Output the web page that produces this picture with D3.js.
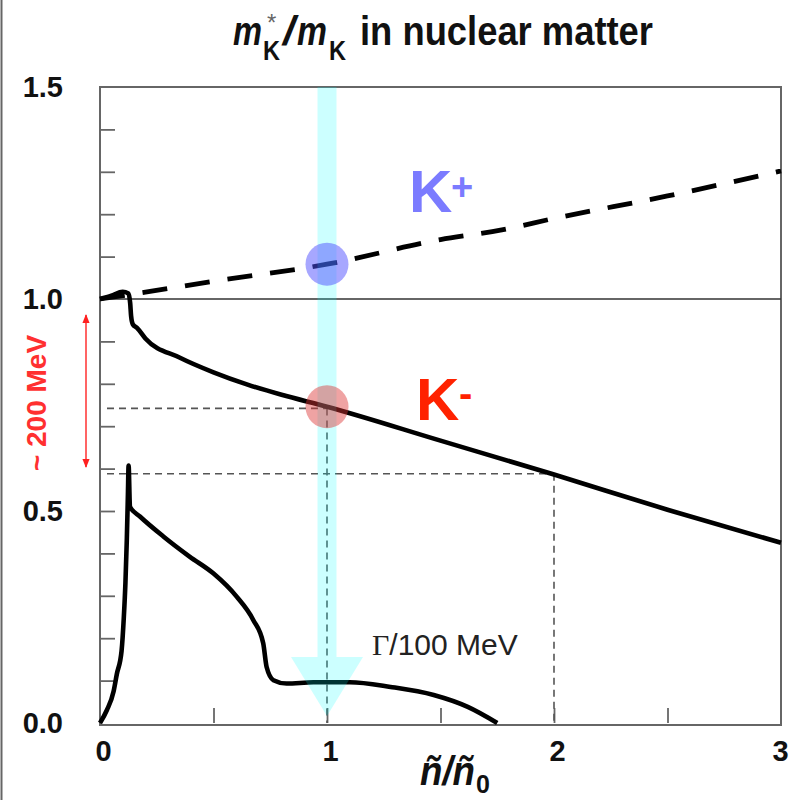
<!DOCTYPE html>
<html>
<head>
<meta charset="utf-8">
<script src="https://cdn.jsdelivr.net/npm/d3@7"></script>
<style>
  body { margin: 0; background: #fff; }
  svg { display: block; }
  text { font-family: "Liberation Sans", Arial, Helvetica, sans-serif; }
</style>
</head>
<body>
<svg id="chart" width="791" height="800"></svg>
<script>
// ---------- data ----------
const kPlusX  = [0, 0.2, 0.5, 1.0, 1.5, 1.77, 2.0, 2.5, 3.0];
const kPlusY  = [1.0, 1.016, 1.042, 1.082, 1.14, 1.163, 1.19, 1.243, 1.302];

const kMinusX = [0, 0.05, 0.1, 0.125, 0.133, 0.137, 0.145, 0.163, 0.2, 0.35, 0.5, 0.65, 0.8, 1.0, 1.5, 2.0, 2.5, 3.0];
const kMinusY = [1.0, 1.008, 1.017, 1.013, 0.99, 0.96, 0.94, 0.932, 0.907, 0.862, 0.827, 0.798, 0.774, 0.746, 0.666, 0.586, 0.503, 0.425];

const gammaX = [0, 0.03, 0.06, 0.074, 0.095, 0.105, 0.112, 0.118, 0.123, 0.126, 0.132, 0.176, 0.279, 0.396, 0.499, 0.602, 0.675, 0.719, 0.734, 0.764, 0.822, 0.94, 1.1, 1.28, 1.47, 1.62, 1.75];
const gammaY = [0, 0.03, 0.075, 0.115, 0.17, 0.25, 0.33, 0.43, 0.54, 0.607, 0.51, 0.487, 0.44, 0.392, 0.353, 0.298, 0.243, 0.188, 0.132, 0.101, 0.093, 0.096, 0.096, 0.085, 0.066, 0.038, 0.0];

const refX = [1, 2];          // vertical dashed guides
const refY = [0.742, 0.588];  // horizontal dashed guides

const xTickLabels = [0, 1, 2, 3];
const xMinorTicks = [0.5, 1, 1.5, 2, 2.5];
const yTickLabels = [0.0, 0.5, 1.0, 1.5];
const yMinorTicks = [0.1,0.2,0.3,0.4,0.5,0.6,0.7,0.8,0.9,1.1,1.2,1.3,1.4];

const markX = [1, 1];            // highlighted points at n/n0 = 1
const markY = [1.082, 0.746];

// ---------- scales ----------
const svg = d3.select("#chart");
const x = d3.scaleLinear().domain([0, 3]).range([100, 781]);
const y = d3.scaleLinear().domain([0, 1.5]).range([723, 87]);

// left border of image
svg.append("line").attr("x1", 1.5).attr("x2", 1.5).attr("y1", 0).attr("y2", 800)
  .attr("stroke", "#666").attr("stroke-width", 2);

// ---------- title ----------
const tg = svg.append("g").attr("fill", "#111").attr("font-weight", "bold");
tg.append("text").attr("x", 233).attr("y", 45).attr("font-size", 40).attr("font-style", "italic")
  .attr("textLength", 29).attr("lengthAdjust", "spacingAndGlyphs").text("m");
tg.append("text").attr("x", 267).attr("y", 31).attr("font-size", 24).attr("font-weight", "normal").attr("fill", "#666").text("*");
tg.append("text").attr("x", 263).attr("y", 60).attr("font-size", 27)
  .attr("textLength", 17).attr("lengthAdjust", "spacingAndGlyphs").text("K");
tg.append("text").attr("x", 283).attr("y", 45).attr("font-size", 40).attr("font-style", "italic")
  .attr("textLength", 12).attr("lengthAdjust", "spacingAndGlyphs").text("/");
tg.append("text").attr("x", 297).attr("y", 45).attr("font-size", 40).attr("font-style", "italic")
  .attr("textLength", 30).attr("lengthAdjust", "spacingAndGlyphs").text("m");
tg.append("text").attr("x", 329).attr("y", 60).attr("font-size", 27)
  .attr("textLength", 17).attr("lengthAdjust", "spacingAndGlyphs").text("K");
tg.append("text").attr("x", 360).attr("y", 45).attr("font-size", 40)
  .attr("textLength", 293).attr("lengthAdjust", "spacingAndGlyphs").text("in nuclear matter");

// ---------- axes ----------
const axisColor = "#666";
const gyMinor = svg.append("g").attr("transform", `translate(${x(0)},0)`)
  .call(d3.axisLeft(y).tickValues(yMinorTicks).tickSize(-15).tickFormat(""));
const gxMinor = svg.append("g").attr("transform", `translate(0,${y(0)})`)
  .call(d3.axisBottom(x).tickValues(xMinorTicks).tickSize(-15).tickFormat(""));
[gyMinor, gxMinor].forEach(g => {
  g.select(".domain").remove();
  g.selectAll(".tick line").attr("stroke", axisColor).attr("stroke-width", 1.8);
});

const gyLab = svg.append("g").attr("transform", `translate(${x(0)},0)`)
  .call(d3.axisLeft(y).tickValues(yTickLabels).tickSize(0).tickPadding(37).tickFormat(d3.format(".1f")));
gyLab.select(".domain").remove();
gyLab.selectAll("text").attr("font-size", 29).attr("font-weight", "bold").attr("fill", "#111")
  .attr("font-family", "Liberation Sans, Arial, sans-serif");

const gxLab = svg.append("g").attr("transform", `translate(0,${y(0)})`)
  .call(d3.axisBottom(x).tickValues(xTickLabels).tickSize(0).tickPadding(17).tickFormat(d3.format("d")));
gxLab.select(".domain").remove();
gxLab.selectAll("text").attr("font-size", 29).attr("font-weight", "bold").attr("fill", "#111")
  .attr("dx", d => d === 3 ? -1 : 3).attr("font-family", "Liberation Sans, Arial, sans-serif");

// x axis title
const xt = svg.append("text").attr("x", 420).attr("y", 785).attr("font-size", 40)
  .attr("font-weight", "bold").attr("font-style", "italic").attr("fill", "#111");
xt.append("tspan").text("ñ/ñ").attr("textLength", 55).attr("lengthAdjust", "spacingAndGlyphs");
xt.append("tspan").attr("dy", 8).attr("font-size", 25).attr("font-style", "normal").attr("dx", 1).text("0");

// ---------- frame ----------
svg.append("rect").attr("x", x(0)).attr("y", y(1.5)).attr("width", x(3) - x(0)).attr("height", y(0) - y(1.5) + 2)
  .attr("fill", "none").attr("stroke", axisColor).attr("stroke-width", 2);

// reference line at 1.0
svg.append("line").attr("x1", x(0)).attr("x2", x(3)).attr("y1", y(1)).attr("y2", y(1))
  .attr("stroke", "#333").attr("stroke-width", 1.6);

// ---------- dashed guide lines ----------
refX.forEach((rx, i) => {
  svg.append("line").attr("x1", x(0) + 7).attr("x2", x(rx)).attr("y1", y(refY[i])).attr("y2", y(refY[i]))
    .attr("stroke", "#555").attr("stroke-width", 1.6).attr("stroke-dasharray", "7,5");
  svg.append("line").attr("x1", x(rx)).attr("x2", x(rx)).attr("y1", y(refY[i])).attr("y2", y(0))
    .attr("stroke", "#555").attr("stroke-width", 1.6).attr("stroke-dasharray", "7,5");
});

// ---------- curves ----------
const line = d3.line().x(d => x(d[0])).y(d => y(d[1])).curve(d3.curveMonotoneX);
const zipPts = (xs, ys) => xs.map((v, i) => [v, ys[i]]);

svg.append("path").datum(zipPts(kMinusX, kMinusY)).attr("d", line)
  .attr("fill", "none").attr("stroke", "#000").attr("stroke-width", 4.6).attr("stroke-linejoin", "round");
svg.append("path").datum(zipPts(kPlusX, kPlusY)).attr("d", line)
  .attr("fill", "none").attr("stroke", "#000").attr("stroke-width", 4.8).attr("stroke-dasharray", "25,18");
svg.append("path").datum(zipPts(gammaX, gammaY)).attr("d", line)
  .attr("fill", "none").attr("stroke", "#000").attr("stroke-width", 4.6).attr("stroke-linejoin", "round");

// ---------- cyan arrow ----------
const ax = x(markX[0]);
svg.append("rect").attr("x", ax - 9.5).attr("y", y(1.5)).attr("width", 19).attr("height", 657 - y(1.5))
  .attr("fill", "rgba(0,255,255,0.2)");
svg.append("path").attr("d", `M${ax - 36},657 L${ax + 36},657 L${ax},716 Z`)
  .attr("fill", "rgba(0,255,255,0.2)");

// ---------- highlight circles ----------
svg.append("circle").attr("cx", x(markX[0])).attr("cy", y(markY[0])).attr("r", 21.5)
  .attr("fill", "rgba(80,80,255,0.5)");
svg.append("circle").attr("cx", x(markX[1])).attr("cy", y(markY[1])).attr("r", 21.5)
  .attr("fill", "rgba(220,50,50,0.45)");

// ---------- labels ----------
svg.append("text").attr("x", 409).attr("y", 212).attr("font-size", 60).attr("font-weight", "bold")
  .attr("fill", "#7b7bff").text("K");
svg.append("text").attr("x", 451).attr("y", 200).attr("font-size", 38).attr("font-weight", "bold")
  .attr("fill", "#7b7bff").text("+");

svg.append("text").attr("x", 416).attr("y", 420).attr("font-size", 60).attr("font-weight", "bold")
  .attr("fill", "#ff2200").text("K");
svg.append("text").attr("x", 459).attr("y", 407).attr("font-size", 40).attr("font-weight", "bold")
  .attr("fill", "#ff2200").text("-");

const gl = svg.append("text").attr("x", 372).attr("y", 655).attr("font-size", 30).attr("fill", "#222");
gl.append("tspan").attr("font-family", "Liberation Serif, Times New Roman, serif").text("Γ");
gl.append("tspan").text("/100 MeV");

// red ~200 MeV annotation
svg.append("text").attr("transform", "translate(46,403) rotate(-90)").attr("text-anchor", "middle")
  .attr("font-size", 28).attr("font-weight", "bold").attr("fill", "#ff3030").text("~ 200 MeV");
svg.append("defs").append("marker").attr("id", "ah").attr("viewBox", "0 0 10 10").attr("refX", 9).attr("refY", 5)
  .attr("markerWidth", 6).attr("markerHeight", 6).attr("orient", "auto-start-reverse")
  .append("path").attr("d", "M0,1 L10,5 L0,9 Z").attr("fill", "#ff2020");
svg.append("line").attr("x1", 86).attr("x2", 86).attr("y1", 315).attr("y2", 467)
  .attr("stroke", "#ff3030").attr("stroke-width", 1.5)
  .attr("marker-start", "url(#ah)").attr("marker-end", "url(#ah)");
</script>
</body>
</html>
